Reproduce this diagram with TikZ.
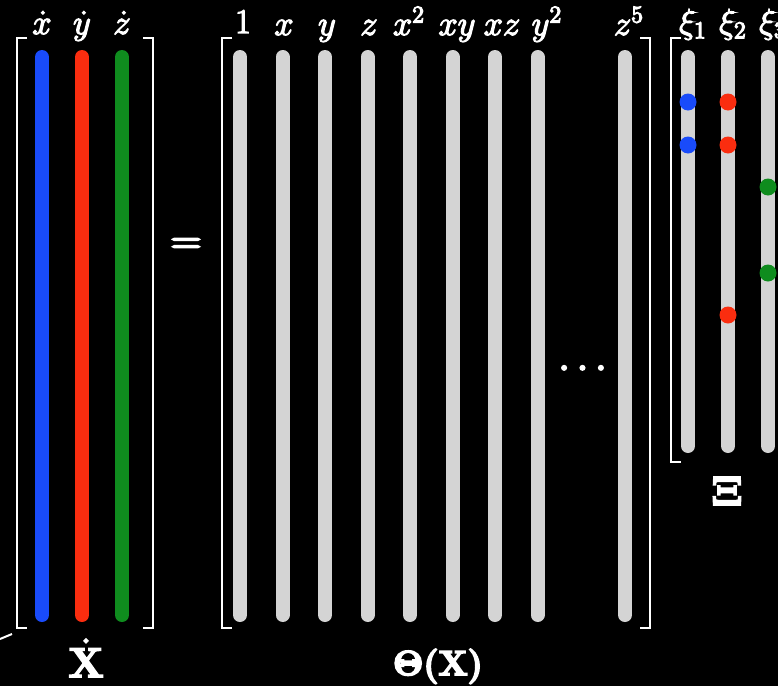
\documentclass[tikz,border=0pt]{standalone}
\usepackage{amsmath,amssymb}
\usepackage{bm}
\usepackage{xcolor}
\usetikzlibrary{positioning}
\definecolor{barblue}{RGB}{25,75,250}
\definecolor{barred}{RGB}{250,45,15}
\definecolor{bargreen}{RGB}{15,140,30}
\definecolor{bargray}{RGB}{212,212,212}
\newcommand{\fakebold}[2]{\special{pdf:literal direct 2 Tr #1 w}#2\special{pdf:literal direct 0 Tr}}

\begin{document}
\begin{tikzpicture}[
  x=0.5pt, y=-0.5pt,
  bar/.style={line width=7pt, line cap=round, draw=bargray},
  brk/.style={draw=white, line width=1.1pt},
  lbl/.style={text=white, font=\LARGE, anchor=base, inner sep=0pt},
  mname/.style={text=white, font=\huge, anchor=base, inner sep=0pt},
  coef/.style={circle, inner sep=0pt, minimum size=8.5pt}
]
\useasboundingbox (0,0) rectangle (778,686);
\fill[black] (0,0) rectangle (778,686);
\clip (0,0) rectangle (778,686);

\draw[bar, draw=barblue] (42,57) -- (42,615);
\draw[bar, draw=barred] (82,57) -- (82,615);
\draw[bar, draw=bargreen] (122,57) -- (122,615);
\draw[brk] (27,38) -- (17,38) -- (17,628) -- (27,628);
\draw[brk] (143,38) -- (153,38) -- (153,628) -- (143,628);
\node[lbl] (xdot) at (42,34) {\fakebold{0.6}{$\dot{x}$}};
\node[lbl] (ydot) at (82,34) {\fakebold{0.6}{$\dot{y}$}};
\node[lbl] (zdot) at (122,34) {\fakebold{0.6}{$\dot{z}$}};
\node[mname] (Xdot) at (86,677) {\fakebold{0.9}{$\dot{\mathbf{X}}$}};
\draw[white, line width=1pt] (0,639) -- (12,634);

\node[text=white, font=\huge] (eq) at (186,246) {\fakebold{1}{$=$}};

\foreach \i in {0,...,7}
  \draw[bar] (240+42.5*\i,57) -- (240+42.5*\i,615);
\draw[bar] (625,57) -- (625,615);
\draw[brk] (232,38) -- (222,38) -- (222,628) -- (232,628);
\draw[brk] (640,38) -- (650,38) -- (650,628) -- (640,628);
\node[lbl] (t1) at (243,33) {\fakebold{0.6}{$1$}};
\node[lbl] (tx) at (284,35) {\fakebold{0.6}{$x$}};
\node[lbl] (ty) at (327,35) {\fakebold{0.6}{$y$}};
\node[lbl] (tz) at (369,35) {\fakebold{0.6}{$z$}};
\node[lbl] (txx) at (409,35) {\fakebold{0.6}{$x^2$}};
\node[lbl] (txy) at (457,35) {\fakebold{0.6}{$xy$}};
\node[lbl] (txz) at (502,35) {\fakebold{0.6}{$xz$}};
\node[lbl] (tyy) at (547,35) {\fakebold{0.6}{$y^2$}};
\node[lbl] (tzf) at (629,35) {\fakebold{0.6}{$z^5$}};
\node[text=white, font=\huge] (dots) at (586,369) {\fakebold{0.8}{$\cdots$}};
\node[mname, font=\LARGE] (thetaX) at (438,675) {\fakebold{0.9}{$\mathbf{\Theta}\bm{(}\mathbf{X}\bm{)}$}};

\foreach \x in {688,728,768}
  \draw[bar] (\x,57) -- (\x,446);
\draw[brk] (681,38) -- (671,38) -- (671,462) -- (681,462);
\node[lbl] (xi1) at (693,33) {\fakebold{0.6}{$\xi_1$}};
\node[lbl] (xi2) at (733,33) {\fakebold{0.6}{$\xi_2$}};
\node[lbl] (xi3) at (773,33) {\fakebold{0.6}{$\xi_3$}};
\node[coef, fill=barblue] (b1) at (688,102) {};
\node[coef, fill=barblue] (b2) at (688,145) {};
\node[coef, fill=barred] (r1) at (728,102) {};
\node[coef, fill=barred] (r2) at (728,145) {};
\node[coef, fill=barred] (r3) at (728,315) {};
\node[coef, fill=bargreen] (g1) at (768,187) {};
\node[coef, fill=bargreen] (g2) at (768,273) {};
\node[mname] (bigXi) at (727,505) {\fakebold{0.9}{$\mathbf{\Xi}$}};
\end{tikzpicture}
\end{document}
